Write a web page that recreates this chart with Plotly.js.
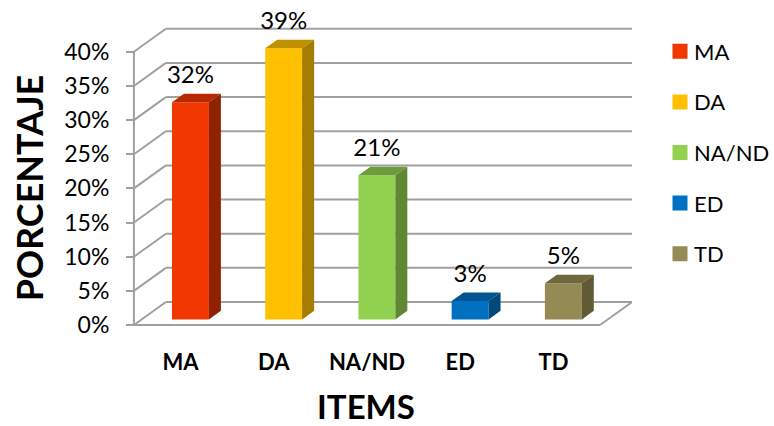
<!DOCTYPE html>
<html><head><meta charset="utf-8">
<script src="https://cdn.plot.ly/plotly-3.0.1.min.js"></script>
<style>html,body{margin:0;padding:0;background:#fff}</style></head><body>
<div id="chart" style="width:774px;height:426px"></div>
<script>
const categories = ["MA","DA","NA/ND","ED","TD"];
const values = [31.8,39.7,21.1,2.7,5.3];
const valueLabels = ["32%","39%","21%","3%","5%"];
const frontColors = ["#F03800","#FFC000","#92D050","#0070C0","#948A54"];
const topColors = ["#B52A00","#BF9000","#6D9C3C","#005490","#6F683F"];
const sideColors = ["#8F2200","#A67C00","#5F8734","#00497D","#605A37"];
const yTicks = [0,5,10,15,20,25,30,35,40];
const font = "Lato, Carlito, 'Open Sans', sans-serif";
const wallX = 0.3426, wallY = 3.37;     // full floor depth in axis units
const frontDepthX = 0.31, frontDepthY = 0.24, barDepth = 0.375, barWidth = 0.396;
const strokeX = 0.016, strokeY = 0.22;  // half the bar outline, in axis units
const xRange = [-0.364,5.3426], yRange = [-3.51,43.63];
const grey = "#A0A0A0";
const xMax = categories.length, yMax = 40;

const traces = [];
const shapes = [];
function seg(x0,y0,x1,y1){
  shapes.push({type:"line",layer:"below",xref:"x",yref:"y",x0,x1,y0,y1,line:{color:grey,width:2}});
}
yTicks.forEach(v=>{
  seg(0,v,wallX,v+wallY);
  seg(wallX,v+wallY,xMax+wallX,v+wallY);
});
seg(0,0,0,yMax);
seg(0,0,xMax,0);
seg(xMax,0,xMax+wallX,wallY);

categories.forEach((c,i)=>{
  const cx = i+0.5+frontDepthX*wallX, b = frontDepthY*wallY;
  const t = b+values[i];
  const xl = cx-barWidth/2, xr = cx+barWidth/2;
  const ddx = barDepth*wallX, ddy = barDepth*wallY;
  traces.push({type:"bar",name:c,x:[cx],y:[values[i]-2*strokeY],base:[b+strokeY],width:[barWidth-2*strokeX],
    marker:{color:frontColors[i],line:{color:frontColors[i],width:3}},legendgroup:c,hoverinfo:"name+y"});
  traces.push({type:"scatter",mode:"lines",x:[xl,xr,xr+ddx,xl+ddx,xl],y:[t,t,t+ddy,t+ddy,t],
    fill:"toself",fillcolor:topColors[i],line:{width:0},showlegend:false,hoverinfo:"skip"});
  traces.push({type:"scatter",mode:"lines",x:[xr,xr+ddx,xr+ddx,xr,xr],y:[b,b+ddy,t+ddy,t,b],
    fill:"toself",fillcolor:sideColors[i],line:{width:0},showlegend:false,hoverinfo:"skip"});
  traces.push({type:"scatter",mode:"text",x:[cx],y:[t+ddy+0.7],text:[valueLabels[i]],textposition:"top center",
    textfont:{family:font,size:24,color:"#000"},showlegend:false,hoverinfo:"skip",cliponaxis:false});
});

const layout = {
  width:774,height:426,autosize:false,
  margin:{l:100,r:142,t:27,b:77},
  paper_bgcolor:"#fff",plot_bgcolor:"rgba(0,0,0,0)",
  barmode:"overlay",
  shapes,
  font:{family:font,color:"#000"},
  xaxis:{range:xRange,anchor:"free",position:24/322,tickvals:categories.map((c,i)=>i+0.5),ticktext:categories,
    showgrid:false,zeroline:false,showline:false,ticks:"",ticklabelstandoff:22,
    tickfont:{family:font,size:22,weight:700},
    title:{text:"ITEMS",font:{family:font,size:33,weight:700},standoff:22}},
  yaxis:{range:yRange,anchor:"free",position:34/532,tickvals:yTicks,ticktext:yTicks.map(v=>v+"%"),
    showgrid:false,zeroline:false,showline:false,ticks:"outside",ticklen:8,tickwidth:2,tickcolor:grey,
    ticklabelstandoff:12,tickfont:{family:font,size:23},
    title:{text:"PORCENTAJE",font:{family:font,size:36,weight:700},standoff:8}},
  legend:{xref:"container",yref:"container",x:654/774,xanchor:"left",y:1-30.5/426,yanchor:"top",
    traceorder:"grouped",tracegroupgap:19,maxheight:400,
    font:{family:font,size:22},itemclick:false,itemdoubleclick:false},
};
Plotly.newPlot("chart",traces,layout,{displayModeBar:false,staticPlot:true}).then(()=>{
  // Closer gap between the legend swatch and its label, as in the reference.
  document.querySelectorAll(".legend .legendpoints").forEach(g=>{
    g.setAttribute("transform","translate(6,0) "+(g.getAttribute("transform")||""));
  });
});
</script></body></html>
